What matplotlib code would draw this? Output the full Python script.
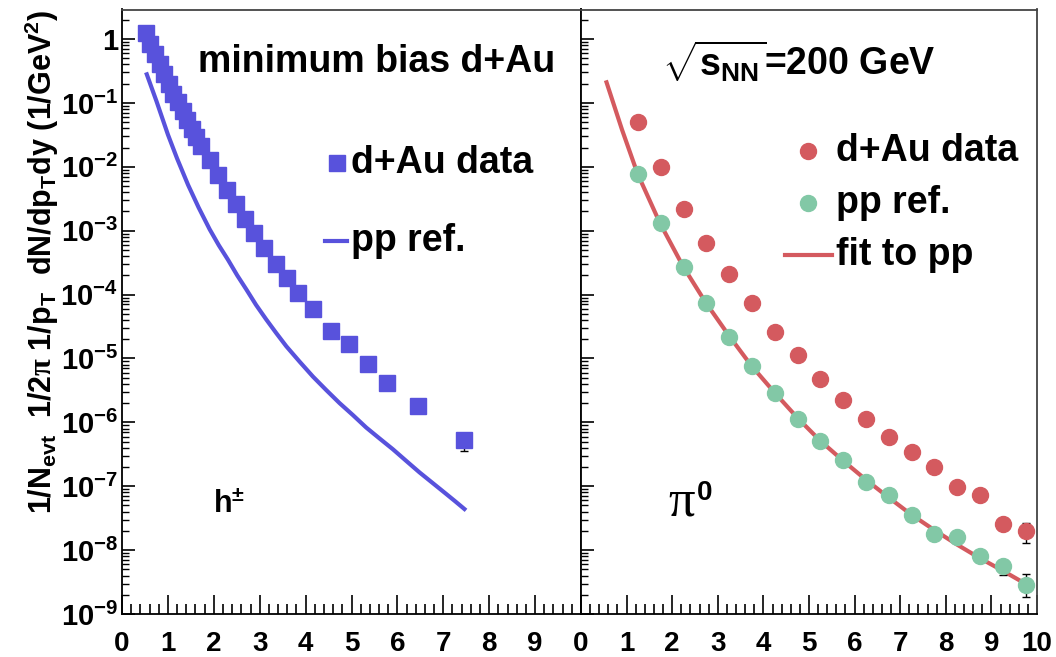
import math
import matplotlib
matplotlib.use("Agg")
import matplotlib.pyplot as plt
from matplotlib.ticker import (LogLocator, FuncFormatter, MultipleLocator, NullFormatter,
                               FixedLocator)

# --- h+- (left panel) ---
h_pt = [0.52, 0.62, 0.72, 0.82, 0.92, 1.02, 1.12, 1.22, 1.32, 1.42, 1.52, 1.62, 1.72,
        1.91, 2.09, 2.28, 2.48, 2.67, 2.87, 3.09, 3.35, 3.59, 3.83,
        4.16, 4.56, 4.94, 5.36, 5.77, 6.44, 7.46]
h_dau = [1.26, 0.85, 0.59, 0.41, 0.28, 0.20, 0.14, 0.102, 0.074, 0.054, 0.039, 0.029, 0.021,
         0.0129, 0.0074, 0.0044, 0.0026, 0.0015, 9.1e-4, 5.4e-4, 3.0e-4, 1.8e-4, 1.07e-4,
         6.0e-5, 2.7e-5, 1.66e-5, 8.1e-6, 4.2e-6, 1.8e-6, 5.2e-7]
h_dau_err = [0] * 29 + [1.7e-7]
h_pp_pt = [0.54, 0.75, 1.0, 1.2, 1.44, 1.67, 1.91, 2.11, 2.31, 2.51, 2.71, 2.92, 3.14, 3.36,
           3.58, 3.87, 4.16, 4.45, 4.74, 5.03, 5.32, 5.61, 5.90, 6.19, 6.48, 6.77, 7.06,
           7.26, 7.46]
h_pp = [0.28, 0.107, 0.032, 0.0135, 5.2e-3, 2.3e-3, 1.05e-3, 5.9e-4, 3.5e-4, 2.0e-4,
        1.2e-4, 6.9e-5, 4.1e-5, 2.5e-5, 1.55e-5, 8.9e-6, 5.2e-6, 3.2e-6, 2.0e-6, 1.3e-6,
        8.3e-7, 5.6e-7, 3.8e-7, 2.5e-7, 1.65e-7, 1.12e-7, 7.6e-8, 5.8e-8, 4.4e-8]

# --- pi0 (right panel) ---
pi_pt = [1.25, 1.75, 2.25, 2.75, 3.25, 3.75, 4.25, 4.75, 5.25, 5.75, 6.25, 6.75, 7.25,
         7.75, 8.25, 8.75, 9.25, 9.75]
pi_dau = [0.051, 0.010, 2.2e-3, 6.5e-4, 2.1e-4, 7.4e-5, 2.6e-5, 1.12e-5, 4.8e-6, 2.2e-6,
          1.12e-6, 5.8e-7, 3.4e-7, 2.0e-7, 9.8e-8, 7.2e-8, 2.6e-8, 2.0e-8]
pi_dau_err = [0] * 17 + [0.7e-8]
pi_pp = [7.8e-3, 1.3e-3, 2.7e-4, 7.4e-5, 2.2e-5, 7.6e-6, 2.9e-6, 1.12e-6, 5.1e-7, 2.6e-7,
         1.17e-7, 7.2e-8, 3.5e-8, 1.8e-8, 1.6e-8, 8.1e-9, 5.6e-9, 2.8e-9]
pi_pp_err_lo = [0] * 16 + [1.5e-9, 0.94e-9]
pi_pp_err_hi = [0] * 16 + [0, 1.4e-9]
fit_pt = [0.56, 0.9, 1.24, 1.73, 2.24, 2.73, 3.24, 3.73, 4.24, 4.75, 5.24, 5.75, 6.25,
          6.72, 7.22, 7.73, 8.24, 8.73, 9.24, 9.83]
fit_pp = [0.21, 0.038, 7.8e-3, 1.32e-3, 2.75e-4, 7.6e-5, 2.3e-5, 7.8e-6, 2.95e-6, 1.17e-6,
          5.2e-7, 2.5e-7, 1.26e-7, 6.9e-8, 3.7e-8, 2.1e-8, 1.23e-8, 7.6e-9, 4.8e-9, 2.75e-9]

y_decades = [1e-9, 1e-8, 1e-7, 1e-6, 1e-5, 1e-4, 1e-3, 1e-2, 1e-1, 1]

blue = '#5852dc'
red = '#d45a5f'
green = '#82c8a6'

plt.rcParams['font.family'] = ['Liberation Sans', 'DejaVu Sans']
plt.rcParams['font.weight'] = 'bold'
plt.rcParams['mathtext.fontset'] = 'custom'
plt.rcParams['mathtext.rm'] = 'Liberation Sans:bold'
plt.rcParams['mathtext.it'] = 'Liberation Sans:bold'
plt.rcParams['mathtext.bf'] = 'Liberation Sans:bold'
plt.rcParams['mathtext.sf'] = 'Liberation Serif'

fig = plt.figure(figsize=(10.56, 6.57), dpi=100)
W, H = 1056, 657
top, bot = 9.5, 614
ax1 = fig.add_axes([122 / W, 1 - bot / H, 459 / W, (bot - top) / H])
ax2 = fig.add_axes([581 / W, 1 - bot / H, 456 / W, (bot - top) / H], sharey=ax1)


def ylab(v, pos):
    if abs(v - 1) < 1e-9:
        return '1'
    e = int(round(math.log10(v)))
    return r'$10^{%d}$' % e


for ax in (ax1, ax2):
    ax.set_yscale('log')
    ax.set_ylim(1e-9, 2.9)
    ax.set_xlim(0, 10)
    ax.xaxis.set_major_locator(MultipleLocator(1))
    ax.xaxis.set_minor_locator(MultipleLocator(0.2))
    ax.yaxis.set_major_locator(FixedLocator(y_decades))
    ax.yaxis.set_minor_locator(LogLocator(base=10, subs=range(2, 10), numticks=30))
    ax.yaxis.set_minor_formatter(NullFormatter())
    ax.tick_params(axis='x', which='major', direction='in', length=13.5, width=1.2,
                   labelsize=20, pad=12, top=False)
    ax.tick_params(axis='x', which='minor', direction='in', length=7.5, width=1.2, top=False)
    ax.tick_params(axis='y', which='major', direction='in', length=9.4, width=1.2,
                   labelsize=21, pad=3, right=False)
    ax.tick_params(axis='y', which='minor', direction='in', length=5, width=1.0, right=False)
    for s in ax.spines.values():
        s.set_linewidth(1.3)
    ax.spines['top'].set_color('#444444')
    ax.spines['right'].set_color('#444444')

ax1.yaxis.set_major_formatter(FuncFormatter(ylab))
ax2.tick_params(axis='y', labelleft=False)
ax1.set_xticks(range(11))
ax1.set_xticklabels([str(i) for i in range(10)] + [''])
ax2.set_xticks(range(11))
ax2.set_xticklabels([str(i) for i in range(11)])

# left panel
ax1.plot(h_pp_pt, h_pp, color=blue, lw=3)
ax1.errorbar(h_pt, h_dau, yerr=h_dau_err, fmt='s', color=blue, ms=11.5, mec=blue,
             ecolor='black', elinewidth=1, capsize=3, zorder=3)

# right panel
ax2.plot(fit_pt, fit_pp, color=red, lw=3, zorder=2)
ax2.errorbar(pi_pt, pi_dau, yerr=pi_dau_err, fmt='o', color=red, ms=11.5, mec=red,
             ecolor='black', elinewidth=1, capsize=3, zorder=3)
ax2.errorbar(pi_pt, pi_pp, yerr=[pi_pp_err_lo, pi_pp_err_hi], fmt='o', color=green, ms=11.5,
             mec=green, ecolor='black', elinewidth=1, capsize=3, zorder=3)

# texts
fs = 27
tf = fig.transFigure
fig.text(198 / W, 1 - 62 / H, 'minimum bias d+Au', fontsize=fs, va='center', ha='left')
fig.text(662 / W, 1 - 62 / H, r'$\sqrt{\mathrm{s_{NN}}}$=200 GeV', fontsize=fs,
         va='center', ha='left')

# left legend
ax1.plot([337 / W], [1 - 163 / H], 's', color=blue, ms=11.5, transform=tf, clip_on=False)
fig.text(351 / W, 1 - 163 / H, 'd+Au data', fontsize=fs, va='center', ha='left')
ax1.plot([325 / W, 347 / W], [1 - 241 / H] * 2, color=blue, lw=3, transform=tf, clip_on=False)
fig.text(351 / W, 1 - 241 / H, 'pp ref.', fontsize=fs, va='center', ha='left')

# right legend
ax2.plot([808 / W], [1 - 151 / H], 'o', color=red, ms=11.5, transform=tf, clip_on=False)
fig.text(836 / W, 1 - 151 / H, 'd+Au data', fontsize=fs, va='center', ha='left')
ax2.plot([808 / W], [1 - 203 / H], 'o', color=green, ms=11.5, transform=tf, clip_on=False)
fig.text(836 / W, 1 - 203 / H, 'pp ref.', fontsize=fs, va='center', ha='left')
ax2.plot([785 / W, 832 / W], [1 - 255 / H] * 2, color=red, lw=3, transform=tf, clip_on=False)
fig.text(836 / W, 1 - 255 / H, 'fit to pp', fontsize=fs, va='center', ha='left')

fig.text(213 / W, 1 - 505 / H, r'h$^{\pm}$', fontsize=22, va='center', ha='left')
fig.text(668 / W, 1 - 515 / H, '\u03c0', family='Liberation Serif', fontweight='normal',
         fontsize=38, va='baseline', ha='left')
fig.text(697 / W, 1 - 500 / H, '0', fontsize=20, va='baseline', ha='left')

fig.text(42 / W, 1 - 262 / H,
         r'1/N$_{\mathrm{evt}}$  1/2$\mathsf{\pi}$ 1/p$_{\mathrm{T}}$  dN/dp$_{\mathrm{T}}$dy (1/GeV$^{2}$)',
         rotation=90, fontsize=22, va='center', ha='center')

fig.savefig('out.png', dpi=100)
